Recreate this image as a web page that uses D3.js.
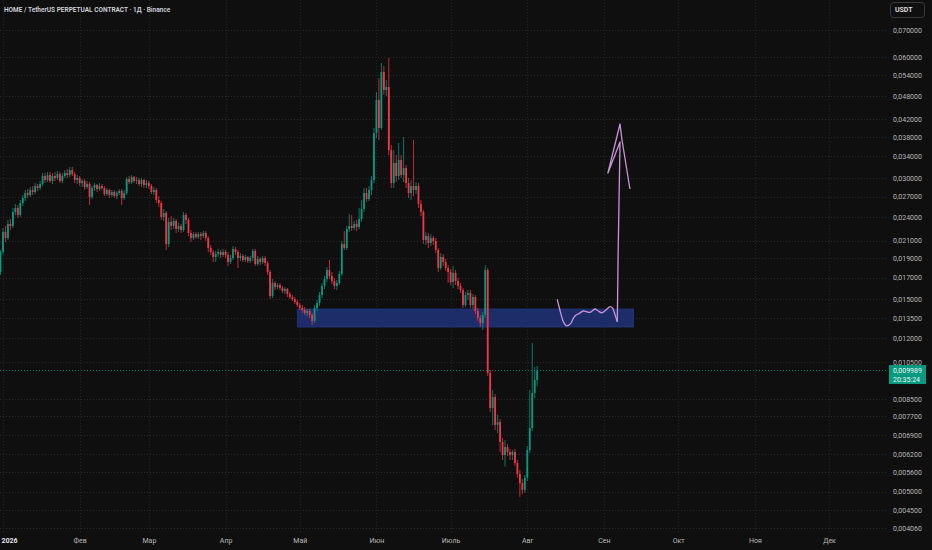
<!DOCTYPE html>
<html><head><meta charset="utf-8">
<script src="https://cdn.jsdelivr.net/npm/d3@7"></script>
<style>
html,body{margin:0;padding:0;background:#0f0f0f;}
svg{display:block;}
</style></head><body>
<svg id="c" width="932" height="550"></svg>
<script>
const title = "HOME / TetherUS PERPETUAL CONTRACT · 1Д · Binance";
const firstCandle = Date.UTC(2025, 11, 31);

const opens = [
.01755,.01967,.02206,.02131,.02309,.02283,.02473,.02530,.02431,.02603,.02678,
.02756,.02725,.02804,.02772,.02869,.02836,.02902,.03038,.02969,.03055,
.02952,.03038,.03003,.03073,.02952,.03038,.03090,.03055,.03144,.03073,
.02969,.03003,.02918,.02952,.02852,.02902,.02694,.02836,.02885,.02820,
.02869,.02836,.02740,.02804,.02725,.02772,.02709,.02756,.02788,.02678,
.02756,.02986,.02935,.03020,.02952,.02969,.02902,.02969,.02885,.02918,
.02869,.02772,.02804,.02648,.02603,.02403,.02459,.02059,.02336,.02283,
.02349,.02244,.02283,.02231,.02431,.02362,.02193,.02131,.02181,.02144,
.02181,.02156,.02193,.02131,.02013,.01967,.01912,.01945,.01967,.01934,
.01967,.01934,.01858,.01901,.02001,.01967,.01901,.01923,.01879,.01912,
.01868,.01901,.01979,.01837,.01890,.01858,.01901,.01847,.01755,.01530,
.01648,.01610,.01629,.01601,.01574,.01592,.01547,.01521,.01504,.01478,
.01453,.01428,.01412,.01388,.01404,.01372,.01326,.01428,.01470,.01538,
.01620,.01686,.01775,.01715,.01667,.01620,.01648,.01735,.02059,.02013,
.02244,.02283,.02257,.02309,.02270,.02376,.02515,.02756,.02663,.02804,
.02969,.03885,.04691,.03997,.05506,.04967,.05053,.03524,.02918,.03273,
.03038,.03329,.03055,.03180,.02918,.02756,.02869,.02804,.02869,.02588,
.02473,.02107,.02156,.02071,.02131,.02095,.01990,.01795,.01912,.01858,
.01795,.01755,.01657,.01745,.01667,.01620,.01583,.01453,.01538,.01556,
.01453,.01521,.01404,.01349,.01311,.01372,.01775,.00985,.00806,.00858,
.00732,.00744,.00664,.00616,.00645,.00627,.00616,.00627,.00589,.00553,
.00525,.00505,.00541,.00634,.00719,.00879,.00946
];
const highs = [
.01990,.02257,.02283,.02362,.02376,.02530,.02588,.02574,.02648,.02725,.02804,
.02820,.02852,.02869,.02918,.02902,.02952,.03090,.03090,.03108,.03108,
.03090,.03108,.03126,.03108,.03090,.03144,.03162,.03198,.03198,.03108,
.03055,.03038,.02986,.02986,.02952,.02935,.02869,.02918,.02902,.02918,
.02902,.02869,.02836,.02820,.02804,.02804,.02788,.02820,.02820,.02804,
.03020,.03038,.03055,.03038,.03020,.03003,.03003,.02986,.02969,.02952,
.02902,.02852,.02836,.02709,.02633,.02515,.02487,.02389,.02417,.02389,
.02376,.02322,.02309,.02473,.02459,.02389,.02231,.02206,.02206,.02206,
.02206,.02218,.02218,.02156,.02048,.01990,.01979,.02001,.01990,.02001,
.01990,.01967,.01934,.02036,.02024,.01990,.01956,.01945,.01934,.01923,
.01923,.02001,.02001,.01923,.01912,.01923,.01923,.01868,.01775,.01686,
.01667,.01648,.01648,.01620,.01610,.01601,.01565,.01538,.01521,.01495,
.01470,.01453,.01436,.01420,.01420,.01388,.01453,.01495,.01565,.01648,
.01715,.01805,.01879,.01755,.01696,.01676,.01765,.02095,.02218,.02283,
.02445,.02431,.02349,.02362,.02530,.02648,.02836,.02836,.02869,.03038,
.03997,.04910,.05320,.05797,.05698,.05259,.05964,.03627,.03524,.03426,
.03669,.03426,.03797,.03235,.03003,.02969,.03732,.02935,.02918,.02648,
.02501,.02206,.02193,.02181,.02156,.02131,.02013,.01956,.01945,.01890,
.01826,.01785,.01816,.01775,.01696,.01648,.01601,.01565,.01583,.01583,
.01547,.01538,.01428,.01372,.01396,.01826,.01795,.01002,.00894,.00873,
.00775,.00757,.00679,.00671,.00656,.00638,.00634,.00638,.00599,.00566,
.00537,.00550,.00649,.00894,.01169,.01019,.01025
];
const lows = [
.01725,.01934,.02083,.02107,.02231,.02257,.02431,.02389,.02403,.02559,.02633,
.02678,.02694,.02725,.02740,.02788,.02804,.02869,.02918,.02935,.02918,
.02902,.02952,.02969,.02918,.02918,.03003,.03003,.03020,.03038,.02918,
.02902,.02869,.02852,.02804,.02820,.02574,.02663,.02788,.02772,.02788,
.02804,.02709,.02709,.02678,.02694,.02678,.02663,.02725,.02574,.02648,
.02725,.02902,.02902,.02918,.02902,.02869,.02852,.02836,.02836,.02820,
.02740,.02725,.02603,.02544,.02362,.02349,.01990,.02024,.02231,.02244,
.02193,.02206,.02193,.02206,.02309,.02156,.02083,.02107,.02119,.02119,
.02107,.02131,.02095,.01967,.01934,.01858,.01858,.01912,.01901,.01912,
.01901,.01816,.01837,.01879,.01934,.01795,.01868,.01858,.01858,.01847,
.01847,.01868,.01816,.01816,.01826,.01837,.01816,.01725,.01504,.01512,
.01583,.01592,.01583,.01556,.01547,.01521,.01504,.01487,.01461,.01436,
.01412,.01388,.01372,.01364,.01349,.01296,.01311,.01404,.01445,.01512,
.01592,.01657,.01686,.01638,.01592,.01583,.01629,.01715,.01990,.01990,
.02206,.02218,.02231,.02218,.02244,.02336,.02473,.02618,.02633,.02725,
.02918,.03775,.03732,.03951,.04827,.04800,.03426,.02836,.02836,.02935,
.02969,.03003,.02935,.02836,.02678,.02648,.02709,.02740,.02530,.02417,
.02059,.02048,.02013,.02036,.02048,.01956,.01755,.01775,.01816,.01765,
.01648,.01629,.01601,.01629,.01592,.01556,.01428,.01436,.01495,.01428,
.01420,.01380,.01326,.01281,.01259,.01349,.00968,.00788,.00732,.00711,
.00699,.00627,.00599,.00576,.00613,.00599,.00599,.00579,.00541,.00485,
.00493,.00496,.00531,.00623,.00707,.00853,.00914
];
const closes = [
.01967,.02206,.02131,.02309,.02283,.02473,.02530,.02431,.02603,.02678,.02756,
.02725,.02804,.02772,.02869,.02836,.02902,.03038,.02969,.03055,.02952,
.03038,.03003,.03073,.02952,.03038,.03090,.03055,.03144,.03073,.02969,
.03003,.02918,.02952,.02852,.02902,.02694,.02836,.02885,.02820,.02869,
.02836,.02740,.02804,.02725,.02772,.02709,.02756,.02788,.02678,.02756,
.02986,.02935,.03020,.02952,.02969,.02902,.02969,.02885,.02918,.02869,
.02772,.02804,.02648,.02603,.02403,.02459,.02059,.02336,.02283,.02349,
.02244,.02283,.02231,.02431,.02362,.02193,.02131,.02181,.02144,.02181,
.02156,.02193,.02131,.02013,.01967,.01912,.01945,.01967,.01934,.01967,
.01934,.01858,.01901,.02001,.01967,.01901,.01923,.01879,.01912,.01868,
.01901,.01979,.01837,.01890,.01858,.01901,.01847,.01755,.01530,.01648,
.01610,.01629,.01601,.01574,.01592,.01547,.01521,.01504,.01478,.01453,
.01428,.01412,.01388,.01404,.01372,.01326,.01428,.01470,.01538,.01620,
.01686,.01775,.01715,.01667,.01620,.01648,.01735,.02059,.02013,.02244,
.02283,.02257,.02309,.02270,.02376,.02515,.02756,.02663,.02804,.02969,
.03885,.04691,.03997,.05506,.04967,.05053,.03524,.02918,.03273,.03038,
.03329,.03055,.03180,.02918,.02756,.02869,.02804,.02869,.02588,.02473,
.02107,.02156,.02071,.02131,.02095,.01990,.01795,.01912,.01858,.01795,
.01755,.01657,.01745,.01667,.01620,.01583,.01453,.01538,.01556,.01453,
.01521,.01404,.01349,.01311,.01372,.01775,.00985,.00806,.00858,.00732,
.00744,.00664,.00616,.00645,.00627,.00616,.00627,.00589,.00553,.00525,
.00505,.00541,.00634,.00719,.00879,.00946,.009989
];

const yTickValues = [0.07,0.06,0.054,0.048,0.042,0.038,0.034,0.030,0.027,0.024,0.021,0.019,0.017,0.015,0.0135,0.012,0.0105,0.0085,0.0077,0.0069,0.0062,0.0056,0.005,0.0045,0.00406];
const monthTicks = ["2026-01-01","2026-02-01","2026-03-01","2026-04-01","2026-05-01","2026-06-01","2026-07-01","2026-08-01","2026-09-01","2026-10-01","2026-11-01","2026-12-01"];
const monthLabels = ["2026","Фев","Мар","Апр","Май","Июн","Июль","Авг","Сен","Окт","Ноя","Дек"];

const zoneFrom = "2026-04-30", zoneTo = "2026-09-13";
const zoneLow = 0.01281, zoneHigh = 0.01420;

// hand-drawn sketch: days after 1 Jan 2026 and price
const waveDays = [224.1,225.2,226.6,227.9,229.6,230.6,231.7,232.6,234.7,236.0,237.4,239.4,240.7,242.1,243.8,245.5,246.5,247.5,248.4];
const wavePrices = [.01501,.01412,.01320,.01289,.01308,.01346,.01372,.01380,.01404,.01398,.01393,.01420,.01404,.01390,.01412,.01439,.01426,.01372,.01320];
const arrowDays = [248.4,248.7,249.1,249.5,244.6,249.5,250.3,253.5];
const arrowPrices = [.01320,.01879,.02648,.03690,.03090,.04089,.03732,.02820];

const lastPrice = 0.009989;
const countdown = "20:35:24";
const currency = "USDT";

const W = 932, H = 550;
const UP = "#089981", DOWN = "#f23645";
const DAY = 864e5, JAN1 = Date.UTC(2026,0,1);
const svg = d3.select("#c");
svg.append("rect").attr("width", W).attr("height", H).attr("fill", "#0f0f0f");

const x = d3.scaleUtc().domain([new Date(JAN1), new Date(Date.UTC(2026,11,1))]).range([3, 829]);
const y = d3.scaleLog().domain([0.00406, 0.07]).range([528, 30]);
const fmt = v => d3.format(".6f")(v).replace(".", ",");
const plotRight = 886;

// grid
const grid = svg.append("g");
grid.selectAll("line.h").data(yTickValues).join("line")
  .attr("x1", 0).attr("x2", plotRight + 2)
  .attr("y1", d => Math.round(y(d)) + 0.5).attr("y2", d => Math.round(y(d)) + 0.5)
  .attr("stroke", "#2a2a2a").attr("stroke-dasharray", "1,2");
const mDates = monthTicks.map(s => new Date(s + "T00:00:00Z"));
grid.selectAll("line.v").data(mDates).join("line")
  .attr("x1", d => Math.round(x(d)) + 0.5).attr("x2", d => Math.round(x(d)) + 0.5)
  .attr("y1", 0).attr("y2", 532)
  .attr("stroke", "#242424").attr("stroke-dasharray", "1,2");

// zone
const zx0 = x(new Date(zoneFrom + "T00:00:00Z")), zx1 = x(new Date(zoneTo + "T00:00:00Z"));
svg.append("rect").attr("x", zx0).attr("y", y(zoneHigh)).attr("width", zx1 - zx0)
  .attr("height", y(zoneLow) - y(zoneHigh)).attr("fill", "#1d2d69").attr("stroke", "#24377c").attr("stroke-width", 0.8);

// candles
const data = closes.map((c, i) => ({ t: new Date(firstCandle + i * DAY), o: opens[i], h: highs[i], l: lows[i], c }));
const cg = svg.append("g");
cg.selectAll("line").data(data).join("line")
  .attr("x1", d => x(d.t)).attr("x2", d => x(d.t))
  .attr("y1", d => y(d.h)).attr("y2", d => y(d.l))
  .attr("stroke", d => d.c >= d.o ? UP : DOWN).attr("stroke-width", 0.9).attr("opacity", 0.85);
const bw = 1.8;
cg.selectAll("rect").data(data).join("rect")
  .attr("x", d => x(d.t) - bw / 2).attr("width", bw)
  .attr("y", d => y(Math.max(d.o, d.c)))
  .attr("height", d => Math.max(1, Math.abs(y(d.o) - y(d.c))))
  .attr("fill", d => d.c >= d.o ? UP : DOWN);

// sketch
const toPt = (d, p) => [x(new Date(JAN1 + d * DAY)), y(p)];
const wave = waveDays.map((d, i) => toPt(d, wavePrices[i]));
const arrow = arrowDays.map((d, i) => toPt(d, arrowPrices[i]));
svg.append("path").attr("d", d3.line().curve(d3.curveCatmullRom.alpha(0.5))(wave))
  .attr("fill", "none").attr("stroke", "#c994d6").attr("stroke-width", 1.3);
svg.append("path").attr("d", d3.line()(arrow))
  .attr("fill", "none").attr("stroke", "#c994d6").attr("stroke-width", 1.3).attr("stroke-linejoin", "round");

// last price line
const yl = y(lastPrice);
svg.append("line").attr("x1", 0).attr("x2", plotRight).attr("y1", yl).attr("y2", yl)
  .attr("stroke", UP).attr("stroke-dasharray", "1,2").attr("opacity", 0.8);

// y axis
const ya = svg.append("g").attr("transform", `translate(${plotRight},0)`)
  .call(d3.axisRight(y).tickValues(yTickValues).tickSize(0).tickPadding(7).tickFormat(fmt));
ya.select(".domain").remove();
ya.selectAll("text").attr("fill", "#b8b8b8").style("font", "7px Roboto, sans-serif");

// x axis
const xa = svg.append("g").attr("transform", "translate(0,535)")
  .call(d3.axisBottom(x).tickValues(mDates).tickSize(0).tickPadding(3).tickFormat((d, i) => monthLabels[i]));
xa.select(".domain").remove();
xa.selectAll("text").attr("fill", "#b8b8b8").style("font", "7px Roboto, sans-serif");
xa.selectAll("text").filter((d, i) => i === 0)
  .attr("fill", "#e0e0e0").style("font-weight", "700")
  .attr("text-anchor", "start").attr("x", -x(mDates[0]) + 1);

// price label
svg.append("rect").attr("x", 889).attr("y", yl - 5.5).attr("width", 37).attr("height", 19).attr("fill", UP);
svg.append("text").attr("x", 893).attr("y", yl).attr("dy", "0.35em").text(fmt(lastPrice))
  .attr("fill", "#e8f5f2").style("font", "7px Roboto, sans-serif");
svg.append("text").attr("x", 893).attr("y", yl + 9).attr("dy", "0.35em").text(countdown)
  .attr("fill", "#e8f5f2").style("font", "7px Roboto, sans-serif");

// currency box
svg.append("rect").attr("x", 890.5).attr("y", 2.5).attr("width", 34).attr("height", 15).attr("rx", 3)
  .attr("fill", "#0f0f0f").attr("stroke", "#3a3a3a");
svg.append("text").attr("x", 895).attr("y", 10).attr("dy", "0.35em").text(currency)
  .attr("fill", "#e0e0e0").style("font", "600 7px Roboto, sans-serif");

// title
svg.append("text").attr("x", 4).attr("y", 11.5).text(title)
  .attr("fill", "#d1d4dc").style("font", "600 6.5px Roboto, sans-serif");
</script>
</body></html>
